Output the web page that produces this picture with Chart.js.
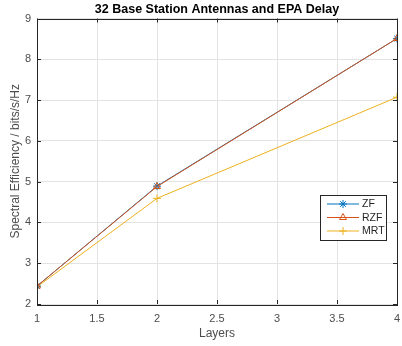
<!DOCTYPE html>
<html>
<head>
<meta charset="utf-8">
<script src="https://cdn.jsdelivr.net/npm/chart.js@4"></script>
<style>
  html, body { margin: 0; padding: 0; background: #fff; }
  #wrap { width: 402px; height: 346px; }
</style>
</head>
<body>
<div id="wrap"><canvas id="seChart" width="402" height="346"></canvas></div>
<script>
const layers = [1, 2, 4];
const zf = [2.44, 4.89, 8.51];
const rzf = [2.44, 4.88, 8.51];
const mrt = [2.42, 4.59, 7.07];
const xTicks = [1, 1.5, 2, 2.5, 3, 3.5, 4];
const yTicks = [2, 3, 4, 5, 6, 7, 8, 9];

const FONT = "'Liberation Sans', Arial, Helvetica, sans-serif";
const toPoints = vals => vals.map((v, i) => ({ x: layers[i], y: v }));

// box around the axes + inward ticks, like matlab
const boxPlugin = {
    id: 'box',
    afterDatasetsDraw(chart) {
        const { ctx, chartArea: a, scales } = chart;
        ctx.save();
        ctx.strokeStyle = '#262626';
        ctx.lineWidth = 1;
        ctx.beginPath();
        xTicks.forEach(t => {
            const px = Math.round(scales.x.getPixelForValue(t)) + 0.5;
            ctx.moveTo(px, a.bottom); ctx.lineTo(px, a.bottom - 4);
            ctx.moveTo(px, a.top); ctx.lineTo(px, a.top + 4);
        });
        yTicks.forEach(t => {
            const py = Math.round(scales.y.getPixelForValue(t)) + 0.5;
            ctx.moveTo(a.left, py); ctx.lineTo(a.left + 4, py);
            ctx.moveTo(a.right, py); ctx.lineTo(a.right - 4, py);
        });
        ctx.stroke();
        ctx.strokeRect(Math.round(a.left) + 0.5, Math.round(a.top) + 0.5,
            Math.round(a.right - a.left), Math.round(a.bottom - a.top));
        ctx.restore();
    },
    afterDraw(chart) {
        // legend box, inside the axes
        const { ctx } = chart;
        const x0 = 320, y0 = 195, w = 66, h = 45;
        ctx.save();
        ctx.fillStyle = '#fff';
        ctx.fillRect(x0, y0, w, h);
        ctx.strokeStyle = '#262626';
        ctx.lineWidth = 1;
        ctx.strokeRect(x0 + 0.5, y0 + 0.5, w, h);
        ctx.font = '10.5px ' + FONT;
        ctx.textBaseline = 'middle';
        chart.data.datasets.forEach((ds, i) => {
            const y = y0 + 9 + i * 13.5;
            ctx.strokeStyle = ds.borderColor;
            ctx.lineWidth = 1;
            ctx.beginPath();
            ctx.moveTo(x0 + 7, y); ctx.lineTo(x0 + 39, y);
            ctx.stroke();
            ctx.fillStyle = 'rgba(0,0,0,0)';
            Chart.helpers.drawPoint(ctx, {
                pointStyle: ds.pointStyle, radius: ds.pointRadius, borderWidth: 1
            }, x0 + 23, y);
            ctx.fillStyle = '#262626';
            ctx.fillText(ds.label, x0 + 42, y + 0.5);
        });
        ctx.restore();
    }
};

const ctx = document.getElementById('seChart').getContext('2d');
new Chart(ctx, {
    type: 'scatter',
    data: {
        datasets: [{
            label: 'ZF',
            data: toPoints(zf),
            showLine: true,
            order: 2,
            borderColor: '#0072BD',
            backgroundColor: 'rgba(0,0,0,0)',
            pointBackgroundColor: 'rgba(0,0,0,0)',
            borderWidth: 1,
            pointStyle: 'star',
            pointRadius: 4,
            pointBorderWidth: 1
        }, {
            label: 'RZF',
            data: toPoints(rzf),
            showLine: true,
            order: 1,
            borderColor: '#D95319',
            backgroundColor: 'rgba(0,0,0,0)',
            pointBackgroundColor: 'rgba(0,0,0,0)',
            borderWidth: 1,
            pointStyle: 'triangle',
            pointRadius: 4,
            pointBorderWidth: 1
        }, {
            label: 'MRT',
            data: toPoints(mrt),
            showLine: true,
            order: 3,
            borderColor: '#EDB120',
            backgroundColor: 'rgba(0,0,0,0)',
            pointBackgroundColor: 'rgba(0,0,0,0)',
            borderWidth: 1,
            pointStyle: 'cross',
            pointRadius: 4,
            pointBorderWidth: 1
        }]
    },
    options: {
        responsive: false,
        animation: false,
        events: [],
        layout: { padding: { left: 0, right: 1, top: 0, bottom: 0 } },
        plugins: {
            legend: { display: false },
            tooltip: { enabled: false },
            title: {
                display: true,
                text: '32 Base Station Antennas and EPA Delay',
                fullSize: false,
                color: '#000',
                font: { family: FONT, size: 12.5, weight: 'bold' },
                padding: { top: 2, bottom: 1.5 }
            }
        },
        scales: {
            x: {
                type: 'linear',
                min: 1,
                max: 4,
                afterBuildTicks: axis => { axis.ticks = xTicks.map(v => ({ value: v })); },
                afterFit: axis => {
                    axis.height = 42;
                    axis.paddingLeft = 0;
                    axis.paddingRight = 0;
                },
                grid: { color: '#e3e3e3', drawTicks: false },
                border: { display: false },
                ticks: {
                    color: '#4d4d4d',
                    padding: 8,
                    maxRotation: 0,
                    callback: v => String(v),
                    font: { family: FONT, size: 11 }
                },
                title: {
                    display: true,
                    text: 'Layers',
                    color: '#4d4d4d',
                    font: { family: FONT, size: 12 },
                    padding: { top: 0, bottom: 5 }
                }
            },
            y: {
                min: 2,
                max: 9,
                afterBuildTicks: axis => { axis.ticks = yTicks.map(v => ({ value: v })); },
                afterFit: axis => { axis.width = 37; },
                grid: { color: '#e3e3e3', drawTicks: false },
                border: { display: false },
                ticks: {
                    color: '#4d4d4d',
                    padding: 6,
                    callback: v => String(v),
                    font: { family: FONT, size: 11 }
                },
                title: {
                    display: true,
                    text: 'Spectral Efficiency / bits/s/Hz',
                    color: '#4d4d4d',
                    font: { family: FONT, size: 12 },
                    padding: { top: 8, bottom: 0 }
                }
            }
        }
    },
    plugins: [boxPlugin]
});
</script>
</body>
</html>
